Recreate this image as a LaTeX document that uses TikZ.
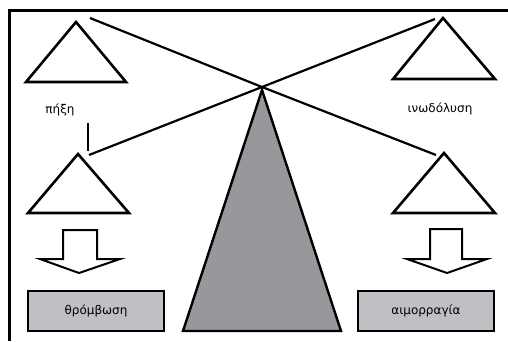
\documentclass[tikz,border=0pt]{standalone}
\usepackage{fontspec}
\setmainfont{DejaVu Sans}
\definecolor{darkgr}{RGB}{152,152,156}
\definecolor{lightgr}{RGB}{192,192,196}
\begin{document}
\begin{tikzpicture}[x=1pt,y=-1pt,
  tri/.style={draw=black,line width=2.6pt,line join=miter,fill=white},
  beam/.style={draw=black,line width=2.2pt},
  fat/.style={draw=black,line width=2pt,fill=white,line join=miter},
  lbl/.style={font=\fontsize{12}{14}\selectfont,inner sep=0pt},
  resbox/.style={draw=black,line width=2.6pt,fill=lightgr,minimum width=136pt,minimum height=40pt,inner sep=0pt,font=\fontsize{12}{14}\selectfont}]
\useasboundingbox (0,0) rectangle (508,341);
% frame
\draw[line width=2.4pt] (9.5,341) -- (9.5,10.5) -- (508,10.5);
% centre point of the balance
\coordinate (c) at (262,87);
% central gray pillar
\path[draw=black,line width=2.4pt,fill=darkgr,line join=miter] (262,90) -- (341,331) -- (183,331) -- cycle;
% beam ends
\coordinate (tl) at (90,18);
\coordinate (bl) at (89,155);
\coordinate (tr) at (435,19);
\coordinate (br) at (436,155);
\draw[beam] (tl) -- (c) -- (br);
\draw[beam] (bl) -- (c) -- (tr);
% triangles
\path[tri] (76,22) -- (126,82) -- (26,82) -- cycle;
\path[tri] (443,18) -- (495,79) -- (393,79) -- cycle;
\path[tri] (78,154) -- (129,213) -- (28,213) -- cycle;
\path[tri] (444,153) -- (495,213) -- (393,213) -- cycle;
% short vertical tick
\coordinate (v1) at (88,123);
\coordinate (v2) at (88,151);
\draw[beam] (v1) -- (v2);
% labels
\node[lbl] (pixi) at (60,110) {πήξη};
\node[lbl] (inod) at (440,109) {ινωδόλυση};
% block arrows
\path[fat] (63,230) -- (97,230) -- (97,259) -- (120,259) -- (79,273) -- (40,259) -- (63,259) -- cycle;
\path[fat] (430,229) -- (462,229) -- (462,259) -- (487,259) -- (447,273) -- (407,259) -- (430,259) -- cycle;
% result boxes
\node[resbox] (thromb) at (96,311) {θρόμβωση};
\node[resbox] (haem) at (426,311) {αιμορραγία};
\end{tikzpicture}
\end{document}
